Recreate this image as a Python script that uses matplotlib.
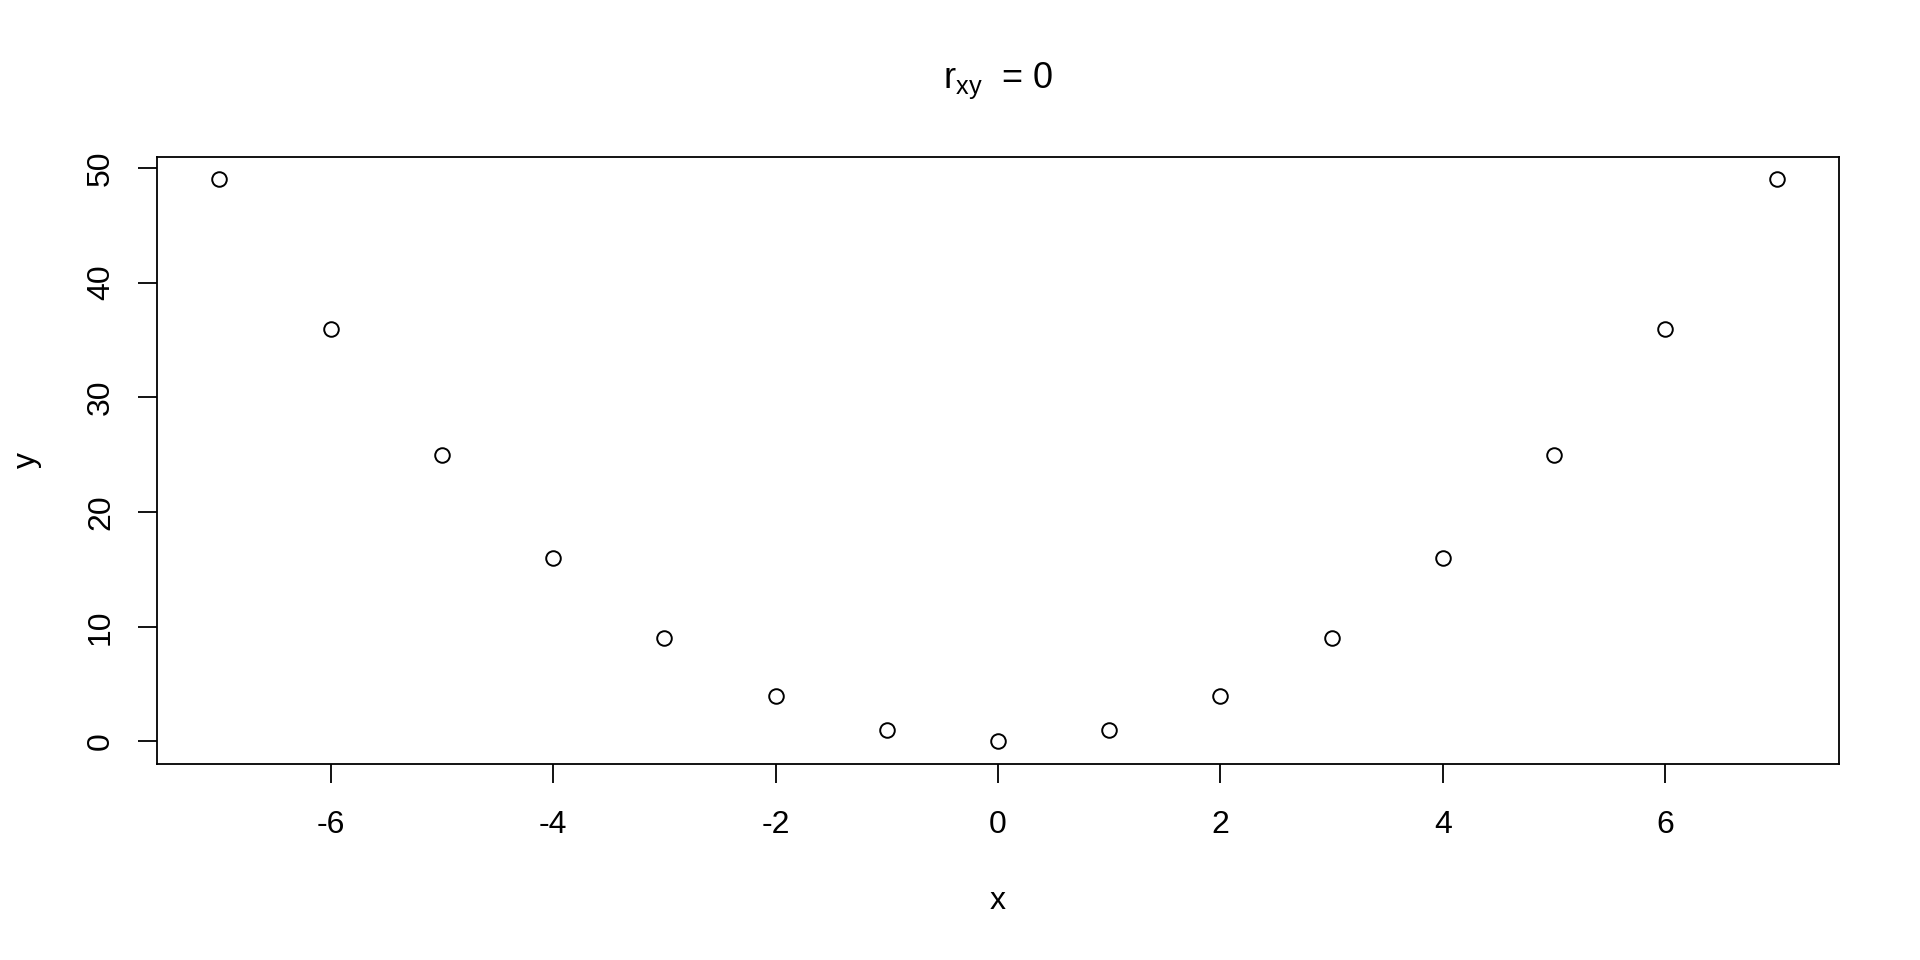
import matplotlib
matplotlib.use("Agg")
import matplotlib.pyplot as plt

# values
x_vals = [-7, -6, -5, -4, -3, -2, -1, 0, 1, 2, 3, 4, 5, 6, 7]
y_vals = [49, 36, 25, 16, 9, 4, 1, 0, 1, 4, 9, 16, 25, 36, 49]
x_ticks = [-6, -4, -2, 0, 2, 4, 6]
y_ticks = [0, 10, 20, 30, 40, 50]

plt.rcParams['font.family'] = ['Liberation Sans', 'DejaVu Sans']
plt.rcParams['mathtext.fontset'] = 'custom'
plt.rcParams['mathtext.rm'] = 'Liberation Sans'
plt.rcParams['mathtext.it'] = 'Liberation Sans'
plt.rcParams['axes.unicode_minus'] = False

fig = plt.figure(figsize=(19.2, 9.6), dpi=100)
ax = fig.add_axes([0.0818, 0.2042, 0.8760, 0.6323])

ax.plot(x_vals, y_vals, linestyle='none', marker='o', markersize=10.5,
        markerfacecolor='none', markeredgecolor='black', markeredgewidth=1.4)

# R style 4% padding
xr = max(x_vals) - min(x_vals)
yr = max(y_vals) - min(y_vals)
ax.set_xlim(min(x_vals) - 0.04 * xr, max(x_vals) + 0.04 * xr)
ax.set_ylim(min(y_vals) - 0.04 * yr, max(y_vals) + 0.04 * yr)

ax.set_xticks(x_ticks)
ax.set_yticks(y_ticks)
ax.tick_params(axis='both', length=13.5, width=1.3, labelsize=23, color='black')
ax.tick_params(axis='x', pad=20)
ax.tick_params(axis='y', pad=16)
for lab in ax.get_yticklabels():
    lab.set_rotation(90)
    lab.set_verticalalignment('center')
for sp in ax.spines.values():
    sp.set_linewidth(1.3)

ax.set_xlabel('x', fontsize=23)
ax.xaxis.set_label_coords(0.5, -0.2257)
ax.xaxis.label.set_verticalalignment('center')
ax.set_ylabel('y', fontsize=23)
ax.yaxis.set_label_coords(-0.0773, 0.5)
ax.yaxis.label.set_verticalalignment('center')

ax.text(0.5, 1.125, r'$\mathrm{r_{xy}}$  = 0', transform=ax.transAxes,
        ha='center', va='center', fontsize=26)

fig.savefig('out.png', dpi=100, facecolor='white')
